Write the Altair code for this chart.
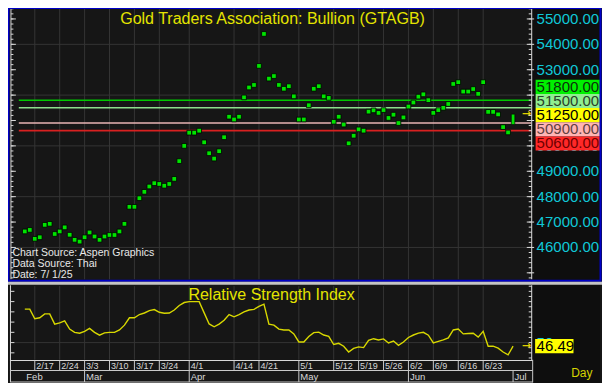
import altair as alt
import pandas as pd

# ---------------- data ----------------
dates = pd.bdate_range("2025-02-13", "2025-07-01")  # trading-day axis (99 days)

price = [46630, 46690, 46340, 46400, 46890, 46930, 46530, 46630, 46790, 46500,
         46300, 46230, 46400, 46590, 46430, 46300, 46430, 46490, 46490, 46630,
         46930, 47600, 47600, 47940, 48190, 48400, 48530, 48500, 48430, 48500,
         48700, 49400, 50000, 50520, 50520, 50600, 50140, 49710, 49500, 49790,
         50340, 51150, 51040, 51150, 51910, 52300, 52400, 53150, 54410, 52650,
         52750, 52400, 52250, 52350, 51950, 51040, 51040, 51600, 52250, 52350,
         51950, 51890, 50950, 51150, 50840, 50100, 50400, 50650, 50600, 51350,
         51400, 51300, 51410, 51100, 51230, 50900, 51120, 51550, 51710, 51940,
         52030, 51800, 51300, 51410, 51500, 51650, 52440, 52510, 52140, 52140,
         52240, 52050, 52510, 51340, 51340, 51240, 50740, 50530, 51250]
last_open = 50840

rsi = [82.7, 82.7, 73.3, 74.2, 78.0, 78.0, 68.0, 69.2, 71.1, 63.2,
       60.0, 59.1, 61.0, 63.8, 60.0, 57.2, 59.5, 60.0, 60.0, 62.3,
       67.0, 74.2, 74.2, 77.4, 78.9, 81.2, 82.2, 79.6, 78.7, 78.9,
       81.8, 86.2, 89.1, 90.0, 90.0, 90.0, 79.0, 68.2, 65.4, 68.0,
       71.8, 77.4, 75.2, 77.4, 79.9, 81.8, 82.4, 85.3, 87.5, 68.0,
       67.0, 63.2, 62.3, 62.3, 58.5, 50.6, 50.6, 56.0, 59.7, 60.2,
       57.4, 56.0, 48.1, 49.3, 46.5, 40.8, 44.3, 45.8, 45.1, 52.2,
       53.8, 52.6, 53.6, 49.6, 51.5, 47.4, 50.6, 55.0, 57.4, 59.3,
       60.0, 57.2, 49.6, 51.2, 52.6, 54.5, 62.3, 63.2, 58.5, 58.8,
       59.1, 55.3, 61.0, 46.5, 46.5, 44.6, 40.8, 38.0, 46.49]

day_ticks = ["2025-02-17", "2025-02-24", "2025-03-03", "2025-03-10", "2025-03-17",
             "2025-03-24", "2025-04-01", "2025-04-14", "2025-04-21", "2025-05-01",
             "2025-05-12", "2025-05-19", "2025-05-26", "2025-06-02", "2025-06-09",
             "2025-06-16", "2025-06-23"]
month_starts = ["2025-02-13", "2025-03-03", "2025-04-01", "2025-05-01", "2025-06-02", "2025-07-01"]
month_names = ["Feb", "Mar", "Apr", "May", "Jun", "Jul"]

levels = [51800, 51500, 50900, 50600]
level_colors = ["#00c800", "#8ce08c", "#e8b4b4", "#d82020"]

box_values = [51800, 51500, 51250, 50900, 50600]
box_fills = ["#00f000", "#90ee90", "#ffff00", "#ffb4b4", "#ff2828"]
box_text_colors = ["#0a300a", "#2a402a", "#000000", "#604040", "#700000"]

price_labels = [55000, 54000, 53000, 50000, 49000, 48000, 47000, 46000]
price_grid = [46000, 48000, 50000, 52000, 54000]
last_rsi = 46.49

# ---------------- layout helpers ----------------
W, H = 594, 375
FONT = "Liberation Sans"


def cx(rx):
    return (rx - 3) * W / 604


def cy(ry):
    return (ry - 2) * H / 387


idx = {d.strftime("%Y-%m-%d"): k for k, d in enumerate(dates)}
xs = alt.Scale(domain=[0, 98], range=[cx(15), cx(15 + 5.17 * 98)], nice=False, zero=False)
ps = alt.Scale(domain=[46000, 55000], range=[cy(249.1), cy(13.3)], nice=False, zero=False)
rs = alt.Scale(domain=[40, 90], range=[cy(357.87), cy(305.0)], nice=False, zero=False)

one = pd.DataFrame({"k": [0]})
GRID = "#343434"
AXIS = "#d8d8d8"


def rect(x0, x1, y0, y1, color, **kw):
    return alt.Chart(one).mark_rect(color=color, **kw).encode(
        x=alt.value(cx(x0)), x2=alt.value(cx(x1)), y=alt.value(cy(y0)), y2=alt.value(cy(y1)))


def label(text, rx, ry, color, size, align="left", font=FONT, **kw):
    return alt.Chart(one).mark_text(text=text, color=color, fontSize=size, font=font,
                                    align=align, baseline="middle", **kw).encode(
        x=alt.value(cx(rx)), y=alt.value(cy(ry)))


def hticks(values, scale, x0, x1, color=AXIS):
    return alt.Chart(pd.DataFrame({"v": values})).mark_rule(color=color, strokeWidth=1).encode(
        y=alt.Y("v:Q", scale=scale, axis=None), x=alt.value(cx(x0)), x2=alt.value(cx(x1)))


df = pd.DataFrame({"i": list(range(len(dates))), "price": price, "rsi": rsi})
tick_df = pd.DataFrame({"i": [idx[d] for d in day_ticks],
                        "lab": [f"{int(d[5:7])}/{int(d[8:10])}" for d in day_ticks]})
month_df = pd.DataFrame({"i": [idx[d] for d in month_starts], "lab": month_names})

# ---------------- top panel (price) ----------------
top = []
top.append(rect(537, 605, 2, 389, "#0e0e0e"))
top.append(hticks(price_grid, ps, 7, 535, GRID))
top.append(alt.Chart(tick_df).mark_rule(color=GRID).encode(
    x=alt.X("i:Q", scale=xs, axis=None), y=alt.value(cy(3)), y2=alt.value(cy(282))))
# left axis
top.append(rect(5.5, 6.5, 3, 282, AXIS))
top.append(hticks(list(range(44800, 55401, 200)), ps, 6, 8.5))
top.append(hticks(list(range(45000, 55001, 1000)), ps, 6, 11))
# level lines
lv = pd.DataFrame({"v": levels, "c": level_colors})
top.append(alt.Chart(lv).mark_rule(strokeWidth=1.6).encode(
    y=alt.Y("v:Q", scale=ps, axis=None), x=alt.value(cx(14)), x2=alt.value(cx(535)),
    color=alt.Color("c:N", scale=None)))
# price points
top.append(alt.Chart(df.iloc[:-1]).mark_point(shape="square", filled=True, size=22, fill="#00e400",
                                              stroke="#000000", strokeWidth=0.8, opacity=1).encode(
    x=alt.X("i:Q", scale=xs, axis=None), y=alt.Y("price:Q", scale=ps, axis=None)))
lastdf = pd.DataFrame({"i": [len(dates) - 1], "o": [last_open], "c": [price[-1]]})
top.append(alt.Chart(lastdf).mark_bar(size=3.5, color="#00e400", stroke="#000000", strokeWidth=0.6).encode(
    x=alt.X("i:Q", scale=xs, axis=None), y=alt.Y("o:Q", scale=ps, axis=None), y2="c:Q"))
top.append(alt.Chart(pd.DataFrame({"v": [price[-1]]})).mark_text(
    text="→", color="#e0d000", fontSize=11, font="DejaVu Sans", fontWeight="bold", align="center", baseline="middle").encode(
    y=alt.Y("v:Q", scale=ps, axis=None), x=alt.value(cx(530))))
# right axis
top.append(rect(535, 536, 3, 282, AXIS))
top.append(hticks(list(range(44800, 55401, 200)), ps, 532.5, 535.5))
top.append(hticks(list(range(45000, 55001, 1000)), ps, 530.5, 538))
pl = pd.DataFrame({"v": price_labels, "t": [f"{v}.00" for v in price_labels]})
top.append(alt.Chart(pl).mark_text(color="#10c8d8", fontSize=15, font=FONT, align="left", baseline="middle").encode(
    y=alt.Y("v:Q", scale=ps, axis=None), x=alt.value(cx(540.5)), text="t:N"))
# stacked value boxes
mean_v = sum(box_values) / len(box_values)
step = 14.6 * 1000 / 26.2
half = 7.3 * 1000 / 26.2
centers = [mean_v + (2 - k) * step for k in range(len(box_values))]
bx = pd.DataFrame({"y0": [c - half for c in centers], "y1": [c + half for c in centers],
                   "yc": centers, "f": box_fills, "tc": box_text_colors,
                   "t": [f"{v}.00" for v in box_values]})
top.append(alt.Chart(bx).mark_rect().encode(
    y=alt.Y("y0:Q", scale=ps, axis=None), y2="y1:Q", x=alt.value(cx(539.5)), x2=alt.value(cx(605)),
    color=alt.Color("f:N", scale=None)))
top.append(alt.Chart(bx).mark_text(fontSize=15, font=FONT, align="left", baseline="middle").encode(
    y=alt.Y("yc:Q", scale=ps, axis=None), x=alt.value(cx(540.5)), text="t:N",
    color=alt.Color("tc:N", scale=None)))
# texts
top.append(label("Gold Traders Association: Bullion (GTAGB)", 272, 13, "#e4e400", 16, align="center"))
top.append(label("Chart Source: Aspen Graphics", 7.5, 254.5, "#e8e8e8", 10.5))
top.append(label("Data Source: Thai", 7.5, 266, "#e8e8e8", 10.5))
top.append(label("Date: 7/ 1/25", 7.5, 277.5, "#e8e8e8", 10.5))
# frame
top.append(rect(3.5, 605.5, 2, 283.5, "#0000c8", filled=False, strokeWidth=2))
top.append(rect(3, 607, 284.5, 287.5, "#c4c4c4"))

# ---------------- bottom panel (RSI) ----------------
bot = []
bot.append(alt.Chart(tick_df).mark_rule(color=GRID).encode(
    x=alt.X("i:Q", scale=xs, axis=None), y=alt.value(cy(289)), y2=alt.value(cy(365))))
bot.append(hticks([50], rs, 7, 535, GRID))
bot.append(alt.Chart(df).mark_line(color="#d8d800", strokeWidth=1.4).encode(
    x=alt.X("i:Q", scale=xs, axis=None), y=alt.Y("rsi:Q", scale=rs, axis=None)))
bot.append(label("Relative Strength Index", 271, 298.5, "#e4e400", 16, align="center"))
# axes
bot.append(rect(5, 6, 288, 388, AXIS))
bot.append(hticks(list(range(40, 101, 10)), rs, 5.5, 9.5))
bot.append(rect(535, 536, 288, 366, AXIS))
bot.append(hticks(list(range(35, 106, 5)), rs, 532.5, 535.5))
bot.append(alt.Chart(pd.DataFrame({"v": [50], "t": ["50"]})).mark_text(
    color="#10c8d8", fontSize=15, font=FONT, align="left", baseline="middle").encode(
    y=alt.Y("v:Q", scale=rs, axis=None), x=alt.value(cx(540.5)), text="t:N"))
rb = pd.DataFrame({"y0": [last_rsi - 6.9], "y1": [last_rsi + 6.9], "yc": [last_rsi], "t": [f"{last_rsi:.2f}"]})
bot.append(alt.Chart(rb).mark_rect(color="#ffff00").encode(
    y=alt.Y("y0:Q", scale=rs, axis=None), y2="y1:Q", x=alt.value(cx(539)), x2=alt.value(cx(578))))
bot.append(alt.Chart(rb).mark_text(color="#000000", fontSize=15, font=FONT, align="left", baseline="middle").encode(
    y=alt.Y("yc:Q", scale=rs, axis=None), x=alt.value(cx(540.5)), text="t:N"))
bot.append(alt.Chart(rb).mark_text(text="→", color="#e0d000", fontSize=11, font="DejaVu Sans", fontWeight="bold",
                                   align="center", baseline="middle").encode(
    y=alt.Y("yc:Q", scale=rs, axis=None), x=alt.value(cx(530))))
# date rows
bot.append(rect(5, 536.5, 365.2, 366.2, AXIS))
bot.append(rect(5, 536.5, 375.7, 376.7, "#c8c8c8"))
bot.append(rect(5, 536.5, 387.5, 388.5, "#c8c8c8"))
bot.append(rect(536, 537, 365, 388.5, "#c8c8c8"))
bot.append(alt.Chart(tick_df).mark_rule(color="#c8c8c8").encode(
    x=alt.X("i:Q", scale=xs, axis=None), y=alt.value(cy(366)), y2=alt.value(cy(376))))
bot.append(alt.Chart(tick_df).mark_text(color="#d8d8d8", fontSize=9, font=FONT, align="left",
                                        baseline="middle", dx=1.5).encode(
    x=alt.X("i:Q", scale=xs, axis=None), y=alt.value(cy(371.5)), text="lab:N"))
bot.append(alt.Chart(month_df.iloc[1:]).mark_rule(color="#c8c8c8").encode(
    x=alt.X("i:Q", scale=xs, axis=None), y=alt.value(cy(376.5)), y2=alt.value(cy(388))))
bot.append(alt.Chart(month_df).mark_text(color="#d8d8d8", fontSize=9.5, font=FONT, align="left",
                                         baseline="middle", dx=1.5).encode(
    x=alt.X("i:Q", scale=xs, axis=None), y=alt.value(cy(382.5)), text="lab:N"))
bot.append(label("Day", 586.5, 378.5, "#d4d400", 12, align="center"))

chart = alt.layer(alt.layer(*top), alt.layer(*bot)).resolve_scale(y="independent").properties(
    width=W, height=H, autosize=alt.AutoSizeParams(type="none"), padding=0, background="#161616"
).configure_view(stroke=None)

chart.save("out.html", embed_options={"renderer": "svg", "actions": False})
